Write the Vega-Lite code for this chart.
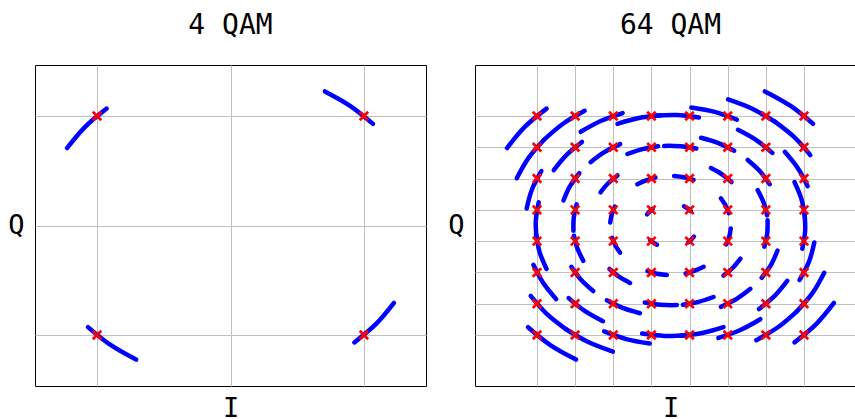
{
"$schema": "https://vega.github.io/schema/vega-lite/v6.json",
"padding": {"left": 7, "top": 11, "right": -12, "bottom": -4},
"spacing": 20,
"datasets": {
"a4": [
{"k":0,"t":0,"i":1.068,"q":0.928},{"k":0,"t":1,"i":0.899,"q":1.091},{"k":0,"t":2,"i":0.707,"q":1.225},
{"k":1,"t":0,"i":-0.928,"q":1.068},{"k":1,"t":1,"i":-1.091,"q":0.899},{"k":1,"t":2,"i":-1.225,"q":0.707},
{"k":2,"t":0,"i":-1.068,"q":-0.928},{"k":2,"t":1,"i":-0.899,"q":-1.091},{"k":2,"t":2,"i":-0.707,"q":-1.225},
{"k":3,"t":0,"i":0.928,"q":-1.068},{"k":3,"t":1,"i":1.091,"q":-0.899},{"k":3,"t":2,"i":1.225,"q":-0.707}
],
"m4": [{"i":1,"q":1},{"i":-1,"q":1},{"i":-1,"q":-1},{"i":1,"q":-1}],
"a64": [
{"k":0,"t":0,"i":-7.47,"q":-6.50},{"k":0,"t":1,"i":-6.30,"q":-7.64},{"k":0,"t":2,"i":-4.95,"q":-8.57},
{"k":1,"t":0,"i":-7.33,"q":-4.50},{"k":1,"t":1,"i":-6.49,"q":-5.65},{"k":1,"t":2,"i":-5.47,"q":-6.64},
{"k":2,"t":0,"i":-7.19,"q":-2.51},{"k":2,"t":1,"i":-6.68,"q":-3.66},{"k":2,"t":2,"i":-5.99,"q":-4.71},
{"k":3,"t":0,"i":-7.05,"q":-0.51},{"k":3,"t":1,"i":-6.87,"q":-1.67},{"k":3,"t":2,"i":-6.50,"q":-2.78},
{"k":4,"t":0,"i":-6.91,"q":1.49},{"k":4,"t":1,"i":-7.06,"q":0.32},{"k":4,"t":2,"i":-7.02,"q":-0.85},
{"k":5,"t":0,"i":-6.77,"q":3.48},{"k":5,"t":1,"i":-7.26,"q":2.32},{"k":5,"t":2,"i":-7.54,"q":1.09},
{"k":6,"t":0,"i":-6.63,"q":5.48},{"k":6,"t":1,"i":-7.45,"q":4.31},{"k":6,"t":2,"i":-8.06,"q":3.02},
{"k":7,"t":0,"i":-6.50,"q":7.47},{"k":7,"t":1,"i":-7.64,"q":6.30},{"k":7,"t":2,"i":-8.57,"q":4.95},
{"k":8,"t":0,"i":-5.48,"q":-6.63},{"k":8,"t":1,"i":-4.31,"q":-7.45},{"k":8,"t":2,"i":-3.02,"q":-8.06},
{"k":9,"t":0,"i":-5.34,"q":-4.64},{"k":9,"t":1,"i":-4.50,"q":-5.46},{"k":9,"t":2,"i":-3.54,"q":-6.12},
{"k":10,"t":0,"i":-5.20,"q":-2.64},{"k":10,"t":1,"i":-4.69,"q":-3.47},{"k":10,"t":2,"i":-4.05,"q":-4.19},
{"k":11,"t":0,"i":-5.06,"q":-0.65},{"k":11,"t":1,"i":-4.88,"q":-1.47},{"k":11,"t":2,"i":-4.57,"q":-2.26},
{"k":12,"t":0,"i":-4.92,"q":1.35},{"k":12,"t":1,"i":-5.07,"q":0.52},{"k":12,"t":2,"i":-5.09,"q":-0.33},
{"k":13,"t":0,"i":-4.78,"q":3.34},{"k":13,"t":1,"i":-5.27,"q":2.51},{"k":13,"t":2,"i":-5.61,"q":1.60},
{"k":14,"t":0,"i":-4.64,"q":5.34},{"k":14,"t":1,"i":-5.46,"q":4.50},{"k":14,"t":2,"i":-6.12,"q":3.54},
{"k":15,"t":0,"i":-4.50,"q":7.33},{"k":15,"t":1,"i":-5.65,"q":6.49},{"k":15,"t":2,"i":-6.64,"q":5.47},
{"k":16,"t":0,"i":-3.48,"q":-6.77},{"k":16,"t":1,"i":-2.32,"q":-7.26},{"k":16,"t":2,"i":-1.09,"q":-7.54},
{"k":17,"t":0,"i":-3.34,"q":-4.78},{"k":17,"t":1,"i":-2.51,"q":-5.27},{"k":17,"t":2,"i":-1.60,"q":-5.61},
{"k":18,"t":0,"i":-3.20,"q":-2.78},{"k":18,"t":1,"i":-2.70,"q":-3.27},{"k":18,"t":2,"i":-2.12,"q":-3.67},
{"k":19,"t":0,"i":-3.06,"q":-0.79},{"k":19,"t":1,"i":-2.89,"q":-1.28},{"k":19,"t":2,"i":-2.64,"q":-1.74},
{"k":20,"t":0,"i":-2.92,"q":1.21},{"k":20,"t":1,"i":-3.08,"q":0.71},{"k":20,"t":2,"i":-3.16,"q":0.19},
{"k":21,"t":0,"i":-2.78,"q":3.20},{"k":21,"t":1,"i":-3.27,"q":2.70},{"k":21,"t":2,"i":-3.67,"q":2.12},
{"k":22,"t":0,"i":-2.64,"q":5.20},{"k":22,"t":1,"i":-3.47,"q":4.69},{"k":22,"t":2,"i":-4.19,"q":4.05},
{"k":23,"t":0,"i":-2.51,"q":7.19},{"k":23,"t":1,"i":-3.66,"q":6.68},{"k":23,"t":2,"i":-4.71,"q":5.99},
{"k":24,"t":0,"i":-1.49,"q":-6.91},{"k":24,"t":1,"i":-0.32,"q":-7.06},{"k":24,"t":2,"i":0.85,"q":-7.02},
{"k":25,"t":0,"i":-1.35,"q":-4.92},{"k":25,"t":1,"i":-0.52,"q":-5.07},{"k":25,"t":2,"i":0.33,"q":-5.09},
{"k":26,"t":0,"i":-1.21,"q":-2.92},{"k":26,"t":1,"i":-0.71,"q":-3.08},{"k":26,"t":2,"i":-0.19,"q":-3.16},
{"k":27,"t":0,"i":-1.07,"q":-0.93},{"k":27,"t":1,"i":-0.90,"q":-1.09},{"k":27,"t":2,"i":-0.71,"q":-1.23},
{"k":28,"t":0,"i":-0.93,"q":1.07},{"k":28,"t":1,"i":-1.09,"q":0.90},{"k":28,"t":2,"i":-1.23,"q":0.71},
{"k":29,"t":0,"i":-0.79,"q":3.06},{"k":29,"t":1,"i":-1.28,"q":2.89},{"k":29,"t":2,"i":-1.74,"q":2.64},
{"k":30,"t":0,"i":-0.65,"q":5.06},{"k":30,"t":1,"i":-1.47,"q":4.88},{"k":30,"t":2,"i":-2.26,"q":4.57},
{"k":31,"t":0,"i":-0.51,"q":7.05},{"k":31,"t":1,"i":-1.67,"q":6.87},{"k":31,"t":2,"i":-2.78,"q":6.50},
{"k":32,"t":0,"i":0.51,"q":-7.05},{"k":32,"t":1,"i":1.67,"q":-6.87},{"k":32,"t":2,"i":2.78,"q":-6.50},
{"k":33,"t":0,"i":0.65,"q":-5.06},{"k":33,"t":1,"i":1.47,"q":-4.88},{"k":33,"t":2,"i":2.26,"q":-4.57},
{"k":34,"t":0,"i":0.79,"q":-3.06},{"k":34,"t":1,"i":1.28,"q":-2.89},{"k":34,"t":2,"i":1.74,"q":-2.64},
{"k":35,"t":0,"i":0.93,"q":-1.07},{"k":35,"t":1,"i":1.09,"q":-0.90},{"k":35,"t":2,"i":1.23,"q":-0.71},
{"k":36,"t":0,"i":1.07,"q":0.93},{"k":36,"t":1,"i":0.90,"q":1.09},{"k":36,"t":2,"i":0.71,"q":1.23},
{"k":37,"t":0,"i":1.21,"q":2.92},{"k":37,"t":1,"i":0.71,"q":3.08},{"k":37,"t":2,"i":0.19,"q":3.16},
{"k":38,"t":0,"i":1.35,"q":4.92},{"k":38,"t":1,"i":0.52,"q":5.07},{"k":38,"t":2,"i":-0.33,"q":5.09},
{"k":39,"t":0,"i":1.49,"q":6.91},{"k":39,"t":1,"i":0.32,"q":7.06},{"k":39,"t":2,"i":-0.85,"q":7.02},
{"k":40,"t":0,"i":2.51,"q":-7.19},{"k":40,"t":1,"i":3.66,"q":-6.68},{"k":40,"t":2,"i":4.71,"q":-5.99},
{"k":41,"t":0,"i":2.64,"q":-5.20},{"k":41,"t":1,"i":3.47,"q":-4.69},{"k":41,"t":2,"i":4.19,"q":-4.05},
{"k":42,"t":0,"i":2.78,"q":-3.20},{"k":42,"t":1,"i":3.27,"q":-2.70},{"k":42,"t":2,"i":3.67,"q":-2.12},
{"k":43,"t":0,"i":2.92,"q":-1.21},{"k":43,"t":1,"i":3.08,"q":-0.71},{"k":43,"t":2,"i":3.16,"q":-0.19},
{"k":44,"t":0,"i":3.06,"q":0.79},{"k":44,"t":1,"i":2.89,"q":1.28},{"k":44,"t":2,"i":2.64,"q":1.74},
{"k":45,"t":0,"i":3.20,"q":2.78},{"k":45,"t":1,"i":2.70,"q":3.27},{"k":45,"t":2,"i":2.12,"q":3.67},
{"k":46,"t":0,"i":3.34,"q":4.78},{"k":46,"t":1,"i":2.51,"q":5.27},{"k":46,"t":2,"i":1.60,"q":5.61},
{"k":47,"t":0,"i":3.48,"q":6.77},{"k":47,"t":1,"i":2.32,"q":7.26},{"k":47,"t":2,"i":1.09,"q":7.54},
{"k":48,"t":0,"i":4.50,"q":-7.33},{"k":48,"t":1,"i":5.65,"q":-6.49},{"k":48,"t":2,"i":6.64,"q":-5.47},
{"k":49,"t":0,"i":4.64,"q":-5.34},{"k":49,"t":1,"i":5.46,"q":-4.50},{"k":49,"t":2,"i":6.12,"q":-3.54},
{"k":50,"t":0,"i":4.78,"q":-3.34},{"k":50,"t":1,"i":5.27,"q":-2.51},{"k":50,"t":2,"i":5.61,"q":-1.60},
{"k":51,"t":0,"i":4.92,"q":-1.35},{"k":51,"t":1,"i":5.07,"q":-0.52},{"k":51,"t":2,"i":5.09,"q":0.33},
{"k":52,"t":0,"i":5.06,"q":0.65},{"k":52,"t":1,"i":4.88,"q":1.47},{"k":52,"t":2,"i":4.57,"q":2.26},
{"k":53,"t":0,"i":5.20,"q":2.64},{"k":53,"t":1,"i":4.69,"q":3.47},{"k":53,"t":2,"i":4.05,"q":4.19},
{"k":54,"t":0,"i":5.34,"q":4.64},{"k":54,"t":1,"i":4.50,"q":5.46},{"k":54,"t":2,"i":3.54,"q":6.12},
{"k":55,"t":0,"i":5.48,"q":6.63},{"k":55,"t":1,"i":4.31,"q":7.45},{"k":55,"t":2,"i":3.02,"q":8.06},
{"k":56,"t":0,"i":6.50,"q":-7.47},{"k":56,"t":1,"i":7.64,"q":-6.30},{"k":56,"t":2,"i":8.57,"q":-4.95},
{"k":57,"t":0,"i":6.63,"q":-5.48},{"k":57,"t":1,"i":7.45,"q":-4.31},{"k":57,"t":2,"i":8.06,"q":-3.02},
{"k":58,"t":0,"i":6.77,"q":-3.48},{"k":58,"t":1,"i":7.26,"q":-2.32},{"k":58,"t":2,"i":7.54,"q":-1.09},
{"k":59,"t":0,"i":6.91,"q":-1.49},{"k":59,"t":1,"i":7.06,"q":-0.32},{"k":59,"t":2,"i":7.02,"q":0.85},
{"k":60,"t":0,"i":7.05,"q":0.51},{"k":60,"t":1,"i":6.87,"q":1.67},{"k":60,"t":2,"i":6.50,"q":2.78},
{"k":61,"t":0,"i":7.19,"q":2.51},{"k":61,"t":1,"i":6.68,"q":3.66},{"k":61,"t":2,"i":5.99,"q":4.71},
{"k":62,"t":0,"i":7.33,"q":4.50},{"k":62,"t":1,"i":6.49,"q":5.65},{"k":62,"t":2,"i":5.47,"q":6.64},
{"k":63,"t":0,"i":7.47,"q":6.50},{"k":63,"t":1,"i":6.30,"q":7.64},{"k":63,"t":2,"i":4.95,"q":8.57}
],
"m64": [
{"i":-7,"q":-7},{"i":-7,"q":-5},{"i":-7,"q":-3},{"i":-7,"q":-1},{"i":-7,"q":1},{"i":-7,"q":3},{"i":-7,"q":5},{"i":-7,"q":7},
{"i":-5,"q":-7},{"i":-5,"q":-5},{"i":-5,"q":-3},{"i":-5,"q":-1},{"i":-5,"q":1},{"i":-5,"q":3},{"i":-5,"q":5},{"i":-5,"q":7},
{"i":-3,"q":-7},{"i":-3,"q":-5},{"i":-3,"q":-3},{"i":-3,"q":-1},{"i":-3,"q":1},{"i":-3,"q":3},{"i":-3,"q":5},{"i":-3,"q":7},
{"i":-1,"q":-7},{"i":-1,"q":-5},{"i":-1,"q":-3},{"i":-1,"q":-1},{"i":-1,"q":1},{"i":-1,"q":3},{"i":-1,"q":5},{"i":-1,"q":7},
{"i":1,"q":-7},{"i":1,"q":-5},{"i":1,"q":-3},{"i":1,"q":-1},{"i":1,"q":1},{"i":1,"q":3},{"i":1,"q":5},{"i":1,"q":7},
{"i":3,"q":-7},{"i":3,"q":-5},{"i":3,"q":-3},{"i":3,"q":-1},{"i":3,"q":1},{"i":3,"q":3},{"i":3,"q":5},{"i":3,"q":7},
{"i":5,"q":-7},{"i":5,"q":-5},{"i":5,"q":-3},{"i":5,"q":-1},{"i":5,"q":1},{"i":5,"q":3},{"i":5,"q":5},{"i":5,"q":7},
{"i":7,"q":-7},{"i":7,"q":-5},{"i":7,"q":-3},{"i":7,"q":-1},{"i":7,"q":1},{"i":7,"q":3},{"i":7,"q":5},{"i":7,"q":7}
]
},
"hconcat": [
{
"title": {"text": "4 QAM"},
"width": 391, "height": 321,
"encoding": {
"x": {"field": "i", "type": "quantitative", "scale": {"domain": [-1.465, 1.465], "nice": false, "zero": false}, "axis": {"title": "I", "values": [-1, 0, 1]}},
"y": {"field": "q", "type": "quantitative", "scale": {"domain": [-1.466, 1.466], "nice": false, "zero": false}, "axis": {"title": "Q", "values": [-1, 0, 1]}}
},
"layer": [
{"data": {"name": "a4"}, "mark": {"type": "line", "interpolate": "natural", "strokeWidth": 4.5, "strokeCap": "round", "color": "#0000ff"},
 "encoding": {"detail": {"field": "k", "type": "nominal"}, "order": {"field": "t", "type": "quantitative"}}},
{"data": {"name": "m4"}, "mark": {"type": "point", "shape": "M-1,-1L1,1M-1,1L1,-1", "filled": false, "color": "#ff0000", "strokeWidth": 2.7, "size": 72, "opacity": 1},
 "encoding": {}}
]
},
{
"title": {"text": "64 QAM"},
"width": 391, "height": 321,
"encoding": {
"x": {"field": "i", "type": "quantitative", "scale": {"domain": [-10.25, 10.25], "nice": false, "zero": false}, "axis": {"title": "I", "values": [-7, -5, -3, -1, 1, 3, 5, 7]}},
"y": {"field": "q", "type": "quantitative", "scale": {"domain": [-10.26, 10.26], "nice": false, "zero": false}, "axis": {"title": "Q", "values": [-7, -5, -3, -1, 1, 3, 5, 7]}}
},
"layer": [
{"data": {"name": "a64"}, "mark": {"type": "line", "interpolate": "natural", "strokeWidth": 4.5, "strokeCap": "round", "color": "#0000ff"},
 "encoding": {"detail": {"field": "k", "type": "nominal"}, "order": {"field": "t", "type": "quantitative"}}},
{"data": {"name": "m64"}, "mark": {"type": "point", "shape": "M-1,-1L1,1M-1,1L1,-1", "filled": false, "color": "#ff0000", "strokeWidth": 2.7, "size": 72, "opacity": 1},
 "encoding": {}}
]
}
],
"config": {
"view": {"stroke": "#000000", "strokeWidth": 1},
"axis": {"labels": false, "ticks": false, "domain": false, "grid": true, "gridColor": "#c0c0c0", "gridWidth": 1, "gridOpacity": 1,
 "titleFont": "DejaVu Sans Mono", "titleFontSize": 27, "titleFontWeight": "normal", "titleColor": "#000000"},
"axisX": {"titlePadding": 9.5},
"axisY": {"titleAngle": 0, "titleAlign": "right", "titleBaseline": "middle", "titlePadding": 11},
"title": {"font": "DejaVu Sans Mono", "fontSize": 28, "fontWeight": "normal", "color": "#000000", "baseline": "alphabetic", "offset": 25, "frame": "group", "anchor": "middle"}
}
}
